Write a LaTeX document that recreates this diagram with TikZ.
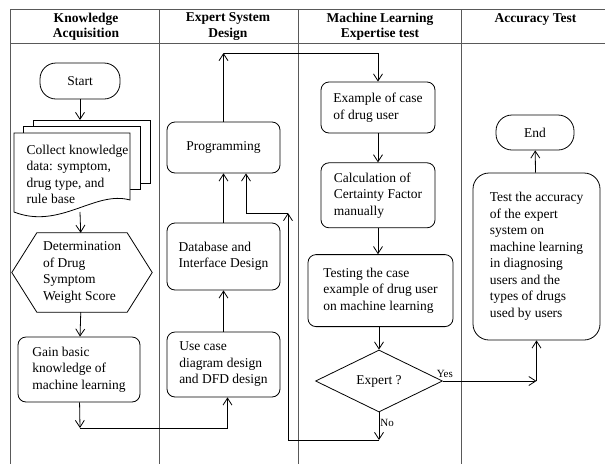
\documentclass[tikz,border=0pt]{standalone}
\usepackage{fontspec}
\setmainfont{Liberation Serif}
\usepackage{tikz}
\usetikzlibrary{positioning, shapes, arrows.meta}

\newcommand\boxfont{\fontsize{13.5}{16.5}\selectfont}
\newcommand\headfont{\fontsize{13.5}{15.5}\selectfont\bfseries}
\newcommand\flagfont{\fontsize{11}{12}\selectfont}

\tikzset{
  pics/docstack/.style={
     code={
	     \foreach \d in {2,1} {
	       \draw [fill=white, line width=0.8pt] (9.5*\d,-6.5*\d) rectangle ++(117,63);
	     }
	     \draw [fill=white, line width=0.8pt] (0,0) -- (116,0) -- (116,67) .. controls (81,57) and (46,97) .. (0,79) -- cycle;
     }
  }
}

\begin{document}
\begin{tikzpicture}[x=1pt, y=-1pt, node distance = 27pt,
process/.style={rectangle, rounded corners=8pt, draw, align=left, line width=0.8pt, font=\boxfont, inner sep=2pt},
terminal/.style={rectangle, rounded corners=16pt, draw, align=center, line width=0.8pt, font=\boxfont},
decision/.style={diamond, aspect=2, draw, line width=0.8pt, font=\boxfont, inner sep=0pt, minimum width=127pt, minimum height=62pt},
lane/.style={draw=black!65, line width=1pt},
head/.style={align=center, font=\headfont},
path/.style={->, >={Straight Barb[length=7pt, width=9pt]}, line width=0.8pt},
]
\useasboundingbox (0,0) rectangle (605,464);

%Lanes
\draw [lane] (10,9) -- (605,9);
\draw [lane] (10,43) -- (605,43);
\foreach \x in {10,159,298,461} {
  \draw [lane] (\x,9) -- (\x,464);
}
\node [head] (h_ka) at (86,26.5) {Knowledge\\Acquisition};
\node [head] (h_esd) at (228,26.5) {Expert System\\Design};
\node [head] (h_ml) at (380,26.5) {Machine Learning\\Expertise test};
\node [head] (h_acc) at (535.5,19) {Accuracy Test};

%Nodes
\node [terminal, minimum width=80pt, minimum height=36pt] (start) at (80,81) {Start};
\draw (14,133) pic{docstack};
\node [align=left, inner sep=0pt, font=\boxfont] (collect) at (77.5,174.5) {Collect knowledge\\data: symptom,\\drug type, and\\rule base};
\coordinate (stacktop) at (80,120);
\coordinate (stackbot) at (80,212);
\node [align=left, font=\boxfont, minimum width=140pt, minimum height=79pt, inner sep=0pt] (hexa) at (82,272.5) {Determination\\of Drug\\Symptom\\Weight Score};
\draw [line width=0.8pt] (hexa.west) -- ([xshift=25pt]hexa.north west) -- ([xshift=-25pt]hexa.north east) -- (hexa.east) -- ([xshift=-25pt]hexa.south east) -- ([xshift=25pt]hexa.south west) -- cycle;
\node [process, minimum width=122pt, minimum height=65pt] (gain) at (79,369.5) {Gain basic\\knowledge of\\machine learning};

\node [process, align=center, minimum width=113pt, minimum height=51pt] (prog) at (223.5,147.5) {Programming};
\node [process, minimum width=113pt, minimum height=67pt] (dbase) at (223.5,256.5) {Database and\\Interface Design};
\node [process, minimum width=113pt, minimum height=65pt] (usecase) at (223.5,364.5) {Use case\\diagram design\\and DFD design};

\node [process, minimum width=114pt, minimum height=51pt] (example) at (378,107.5) {Example of case\\of drug user};
\node [process, minimum width=114pt, minimum height=65pt] (calc) [below = 29pt of example] {Calculation of\\Certainty Factor\\manually};
\node [process, minimum width=145pt, minimum height=72pt, xshift=2.5pt] (testing) [below = 26pt of calc] {Testing the case\\example of drug user\\on machine learning};
\node [decision] (expert) at (379,381) {Expert ?};

\node [terminal, minimum width=78pt, minimum height=35pt] (end) at (535,132.5) {End};
\node [process, rounded corners=16pt, minimum width=127pt, minimum height=167pt] (accuracy) at (536.5,256.5) {Test the accuracy\\of the expert\\system on\\machine learning\\in diagnosing\\users and the\\types of drugs\\used by users};

%Turn points
\coordinate (gturn) at (80,428);
\coordinate (ptop) at (223.5,53);
\coordinate (noturn) at (288,440);
\coordinate (nomeet) at (288,213);

% Paths
\draw [path] (start) -- (stacktop);
\draw [path] (stackbot) -- (hexa);
\draw [path] (hexa) -- (gain);
\draw [path] (gain) -- (gturn);
\draw [path] (gturn) -| ([xshift=4pt]usecase.south);

\draw [path] (usecase) -- (dbase);
\draw [path] (dbase) -- (prog);
\draw [path] (prog) -- (ptop);
\draw [path] (ptop) -| (example.north);

\draw [path] (example) -- (calc);
\draw [path] (calc) -- (calc.south |- testing.north);
\draw [path] (testing.south -| expert) -- (expert);
\draw [path] (expert.east) -- node[font=\flagfont, pos=0.02, above, inner sep=3pt] {Yes} (expert.east -| accuracy.south);
\draw [path] (expert.east -| accuracy.south) -- (accuracy.south);
\draw [path] (accuracy) -- (end);

\draw [path] (expert.south) -- node[font=\flagfont, pos=0.4, right, inner sep=1pt] {No} (expert.south |- noturn);
\draw [path] (expert.south |- noturn) -- (noturn) -- (nomeet);
\draw [path] (nomeet) -| ([xshift=22.5pt]prog.south);
\end{tikzpicture}
\end{document}
